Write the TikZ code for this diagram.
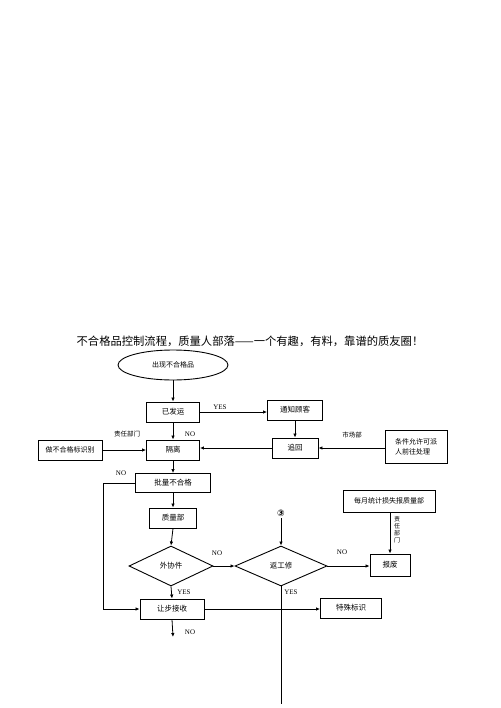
\documentclass[tikz,border=0pt]{standalone}
\usepackage{fontspec}
\setmainfont{Liberation Serif}
\newfontfamily\cjk{Noto Sans CJK SC}
\newfontfamily\djv{DejaVu Sans}
\usetikzlibrary{shapes.geometric,arrows.meta}
\begin{document}
\begin{tikzpicture}[x=1pt,y=-1pt,
  every node/.style={inner sep=0pt},
  box/.style={draw,line width=0.9pt,rectangle,font=\cjk\fontsize{7.5}{9}\selectfont,align=center},
  dia/.style={draw,line width=0.9pt,diamond,font=\cjk\fontsize{7.5}{9}\selectfont},
  lbl/.style={font=\fontsize{7}{8}\selectfont},
  clbl/.style={font=\cjk\fontsize{6.5}{8}\selectfont},
  arr/.style={line width=0.8pt,-{Latex[length=4pt,width=3.5pt]}},
  ln/.style={line width=0.8pt}]
\useasboundingbox[fill=white] (0,0) rectangle (500,708);
\node[font=\cjk\fontsize{11.3}{13}\selectfont] (title) at (250,341) {不合格品控制流程，质量人部落——一个有趣，有料，靠谱的质友圈！};
\node[draw,line width=0.9pt,ellipse,minimum width=110pt,minimum height=30pt,font=\cjk\fontsize{7}{9}\selectfont] (start) at (173,365) {出现不合格品};
\node[box,minimum width=53pt,minimum height=20pt] (fasong) at (173,412) {已发运};
\node[box,minimum width=55pt,minimum height=20pt] (tongzhi) at (295,410) {通知顾客};
\node[box,minimum width=46pt,minimum height=20pt] (zhuihui) at (295,448) {追回};
\node[box,minimum width=53pt,minimum height=20pt] (geli) at (173,450) {隔离};
\node[box,minimum width=64pt,minimum height=20pt,line width=0.6pt,font=\cjk\fontsize{7}{9}\selectfont] (biaoshi) at (70,450) {做不合格标识别};
\node[box,minimum width=62pt,minimum height=33pt,line width=0.6pt,align=left,font=\cjk\fontsize{7}{10}\selectfont] (tiaojian) at (416,446.5) {条件允许可派\\人前往处理};
\node[box,minimum width=75pt,minimum height=19pt] (piliang) at (173,483) {批量不合格};
\node[box,minimum width=47pt,minimum height=20pt] (zhiliang) at (173,518) {质量部};
\node[dia,minimum width=84pt,minimum height=40pt] (waixie) at (171,566) {外协件};
\node[dia,minimum width=92pt,minimum height=40pt] (fangong) at (281,566) {返工修};
\node[box,minimum width=40pt,minimum height=22pt] (baofei) at (390,565) {报废};
\node[box,minimum width=92pt,minimum height=22pt,line width=0.6pt,font=\cjk\fontsize{7}{9}\selectfont] (meiyue) at (389,501) {每月统计损失报质量部};
\node[box,minimum width=64pt,minimum height=20pt] (rangbu) at (172,609) {让步接收};
\node[box,minimum width=61pt,minimum height=20pt] (teshu) at (351,608) {特殊标识};
\node[font=\djv\bfseries\fontsize{9}{10}\selectfont] (three) at (281,513) {③};
\coordinate (loopL) at (103,483);
\coordinate (rbL) at (103,609);
\coordinate (endB) at (281,704);
\coordinate (noEnd) at (173,637);
% connectors
\draw[arr] (start.south) -- (fasong.north);
\draw[arr] (fasong.east) -- (fasong.east -| tongzhi.west);
\draw[arr] (tongzhi.south) -- (zhuihui.north);
\draw[arr] (fasong.south) -- (geli.north);
\draw[arr] (zhuihui.west) -- (zhuihui.west -| geli.east);
\draw[arr] (biaoshi.east) -- (geli.west);
\draw[arr] (tiaojian.west |- zhuihui.east) -- (zhuihui.east);
\draw[arr] (geli.south) -- (piliang.north);
\draw[arr] (piliang.south) -- (zhiliang.north);
\draw[arr] (zhiliang.south) -- (waixie.north);
\draw[arr] (piliang.west) -- (loopL) -- (rbL) -- (rangbu.west);
\draw[arr] (waixie.east) -- (fangong.west);
\draw[arr] (waixie.south) -- (rangbu.north);
\draw[arr] ([yshift=-2pt]three.south) -- (fangong.north);
\draw[arr] (fangong.east) -- (fangong.east -| baofei.west);
\draw[arr] (meiyue.south -| baofei.north) -- (baofei.north);
\draw[ln] (fangong.south) -- (endB);
\draw[arr] (rangbu.east) -- (rangbu.east -| teshu.west);
\draw[arr] (rangbu.south) -- (noEnd);
% labels
\node[lbl] (lyes1) at (220,407) {YES};
\node[lbl] (lno1) at (190,434) {NO};
\node[clbl] (lzr1) at (127,434) {责任部门};
\node[clbl] (lsc) at (352,435) {市场部};
\node[lbl] (lno2) at (121,473) {NO};
\node[lbl] (lno3) at (217,553) {NO};
\node[lbl] (lno4) at (342,552) {NO};
\node[lbl] (lyes2) at (184,592) {YES};
\node[lbl] (lyes3) at (291,592) {YES};
\node[lbl] (lno5) at (190,632) {NO};
\node[clbl,align=center,font=\cjk\fontsize{6}{7}\selectfont] (lzr2) at (397,530) {责\\任\\部\\门};
\end{tikzpicture}
\end{document}
